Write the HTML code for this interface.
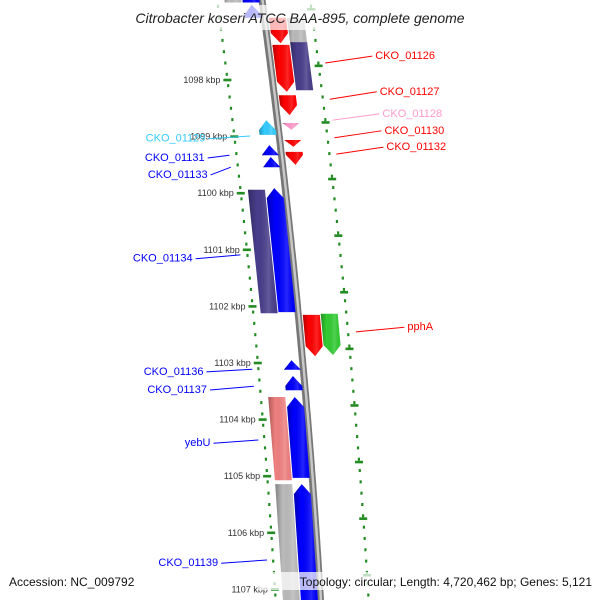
<!DOCTYPE html>
<html><head><meta charset="utf-8"><style>
html,body{margin:0;padding:0;background:#fff}
svg{display:block;font-family:"Liberation Sans","DejaVu Sans",sans-serif}
</style></head><body>
<svg id="map" width="600" height="600" viewBox="0 0 600 600" xmlns="http://www.w3.org/2000/svg">
<defs>
<linearGradient id="shade" x1="0" x2="1" y1="0" y2="0">
<stop offset="0" stop-color="#000" stop-opacity="0.3"/><stop offset="0.3" stop-color="#000" stop-opacity="0"/><stop offset="0.7" stop-color="#fff" stop-opacity="0.15"/><stop offset="1" stop-color="#000" stop-opacity="0"/>
</linearGradient>
</defs>
<g id="ticks"></g>
<g id="backbone"></g>
<g id="genes"></g>
<g id="labels"></g>
<rect x="112" y="5" width="376" height="25" fill="#fff" opacity="0.72"/>
<text x="300" y="23" text-anchor="middle" font-size="14" font-style="italic" fill="#222">Citrobacter koseri ATCC BAA-895, complete genome</text>
<rect x="5" y="572" width="140" height="18" fill="#fff" opacity="0.72"/>
<text x="9" y="586" font-size="12" fill="#111">Accession: NC_009792</text>
<rect x="258" y="572" width="338" height="18" fill="#fff" opacity="0.72"/>
<text x="592" y="586" text-anchor="end" font-size="12" fill="#111">Topology: circular; Length: 4,720,462 bp; Genes: 5,121</text>
</svg>
<script>
const geneStart=[1096.4,1096.4,1096.67,1096.9,1096.9,1097.38,1097.33,1098.27,1098.76,1099.06,1099.27,1098.71,1099.15,1099.36,1099.91,1099.94,1102.15,1102.13,1102.95,1103.23,1103.60,1103.60,1105.14,1105.14];
const geneEnd=[1096.63,1096.63,1096.90,1097.35,1097.33,1098.21,1098.18,1098.62,1098.88,1099.18,1099.50,1098.97,1099.33,1099.54,1102.10,1102.12,1102.88,1102.86,1103.12,1103.48,1105.07,1105.03,1107.4,1107.4];
const geneTrack=[-2,-1,-1,1,2,1,2,1,1,1,1,-1,-1,-1,-1,-2,1,2,-1,-1,-2,-1,-2,-1];
const geneDir=["none","none","up","down","none","down","none","down","down","down","down","up","up","up","up","none","down","down","up","up","none","up","none","up"];
const geneColor=["#bbbbbb","#0000ff","#0000ff","#ff0000","#bbbbbb","#ff0000","#483d8b","#ff0000","#ff99cc","#ff0000","#ff0000","#33ccff","#0000ff","#0000ff","#0000ff","#483d8b","#ff0000","#33cc33","#0000ff","#0000ff","#f08080","#0000ff","#bbbbbb","#0000ff"];
const kbpTicks=[1098,1099,1100,1101,1102,1103,1104,1105,1106,1107];
const rightTicks=[1096.75,1097.75,1098.75,1099.75,1100.75,1101.75,1102.75,1103.75,1104.75,1105.75,1106.75];
const labelText=["CKO_01126","CKO_01127","CKO_01128","CKO_01130","CKO_01132","pphA","CKO_01129","CKO_01131","CKO_01133","CKO_01134","CKO_01136","CKO_01137","yebU","CKO_01139"];
const labelSide=[1,1,1,1,1,1,-1,-1,-1,-1,-1,-1,-1,-1];
const labelKbp=[1097.56,1098.19,1098.58,1098.88,1099.17,1102.35,1099.02,1099.36,1099.66,1101.14,1103.14,1103.46,1104.40,1106.52];
const labelGene=[1097.70,1098.34,1098.71,1099.02,1099.31,1102.45,1098.99,1099.33,1099.54,1101.09,1103.11,1103.41,1104.36,1106.48];
const labelColor=["#ff0000","#ff0000","#ff99cc","#ff0000","#ff0000","#ff0000","#33ccff","#0000ff","#0000ff","#0000ff","#0000ff","#0000ff","#0000ff","#0000ff"];
const labelTextOff=[106,106,106,106,106,108,-74,-77,-76,-100,-100,-98,-99,-100];
const labelLineOff=[55,55,55,55,55,56,-29,-52,-52,-52,-51,-51,-51,-51];

const NS="http://www.w3.org/2000/svg";
function yOf(k){return 80+(k-1098)*56.6;}
function bb(y){return 262+0.135*y-0.0000625*y*y;}
function trackOff(t){return t===-2?-29:t===-1?-11:t===1?13:31;}
function mk(tag,attrs,parent){const e=document.createElementNS(NS,tag);for(const a in attrs)e.setAttribute(a,attrs[a]);parent.appendChild(e);return e;}

const bg=document.getElementById('backbone');
let bp=[];for(let y=-5;y<=605;y+=5)bp.push(bb(y).toFixed(1)+','+y);
let b1=mk('polyline',{points:bp.join(' '),fill:'none',stroke:'#777',"stroke-width":7},bg);


let bp2=[];for(let y=-5;y<=605;y+=5)bp2.push((bb(y)+0.5).toFixed(1)+','+y);
let b2=mk('polyline',{points:bp2.join(' '),fill:'none',stroke:'#c8c8c8',"stroke-width":2.5},bg);



const tg=document.getElementById('ticks');
function ruler(off,majors,side){
  for(let k=1096.3;k<=1107.5;k+=0.2){
    const y=yOf(k);const x=bb(y)+off;
    let d=mk('rect',{x:x-1,y:y-1.5,width:2.2,height:3,fill:'#228b22'},tg);
    
    
  }
  majors.forEach(k=>{
    const y=yOf(k);const x=bb(y)+off;
    let m=mk('rect',{x:x-4,y:y-1.3,width:8,height:2.6,fill:'#228b22'},tg);
    
    
    if(side<0){
      let t=mk('text',{x:x-7,y:y+3,"text-anchor":"end","font-size":9,fill:'#333'},tg);
      t.textContent=k+' kbp';
      
      
    }
  });
}
ruler(-45,kbpTicks,-1);
ruler(48,rightTicks,1);

const gg=document.getElementById('genes');
const W=17,H=10;
for(let i=0;i<geneStart.length;i++){
  const ya=yOf(geneStart[i]),yb=yOf(geneEnd[i]);const o=trackOff(geneTrack[i]);
  const L=y=>bb(y)+o-W/2,R=y=>bb(y)+o+W/2,C=y=>bb(y)+o;
  const h=Math.min(H,yb-ya);
  let pts=[];
  if(geneDir[i]==='down'){const yh=yb-h;pts.push([L(ya),ya],[R(ya),ya],[R(yh),yh],[C(yb),yb],[L(yh),yh]);}
  else if(geneDir[i]==='up'){const yh=ya+h;pts.push([C(ya),ya],[R(yh),yh],[R(yb),yb],[L(yb),yb],[L(yh),yh]);}
  else{pts.push([L(ya),ya],[R(ya),ya],[R(yb),yb],[L(yb),yb]);}
  const s=pts.map(p=>p[0].toFixed(1)+','+p[1].toFixed(1)).join(' ');
  let g=mk('polygon',{points:s,fill:geneColor[i]},gg);
  
  
  let sh=mk('polygon',{points:s,fill:'url(#shade)'},gg);
  
  
}

const lg=document.getElementById('labels');
for(let i=0;i<labelText.length;i++){
  const side=labelSide[i];
  const yg=yOf(labelGene[i]);const yl=yOf(labelKbp[i]);
  const x1=bb(yg)+labelLineOff[i];
  const tx=bb(yl)+labelTextOff[i];
  const x2=side>0?tx-3:tx+3;
  let ln=mk('line',{x1:x1,y1:yg,x2:x2,y2:yl+1,stroke:labelColor[i],"stroke-width":1},lg);
  
  
  let t=mk('text',{x:tx,y:yl+4,"text-anchor":side>0?'start':'end',"font-size":11,fill:labelColor[i]},lg);
  t.textContent=labelText[i];
  
  
}
</script>
</body></html>
